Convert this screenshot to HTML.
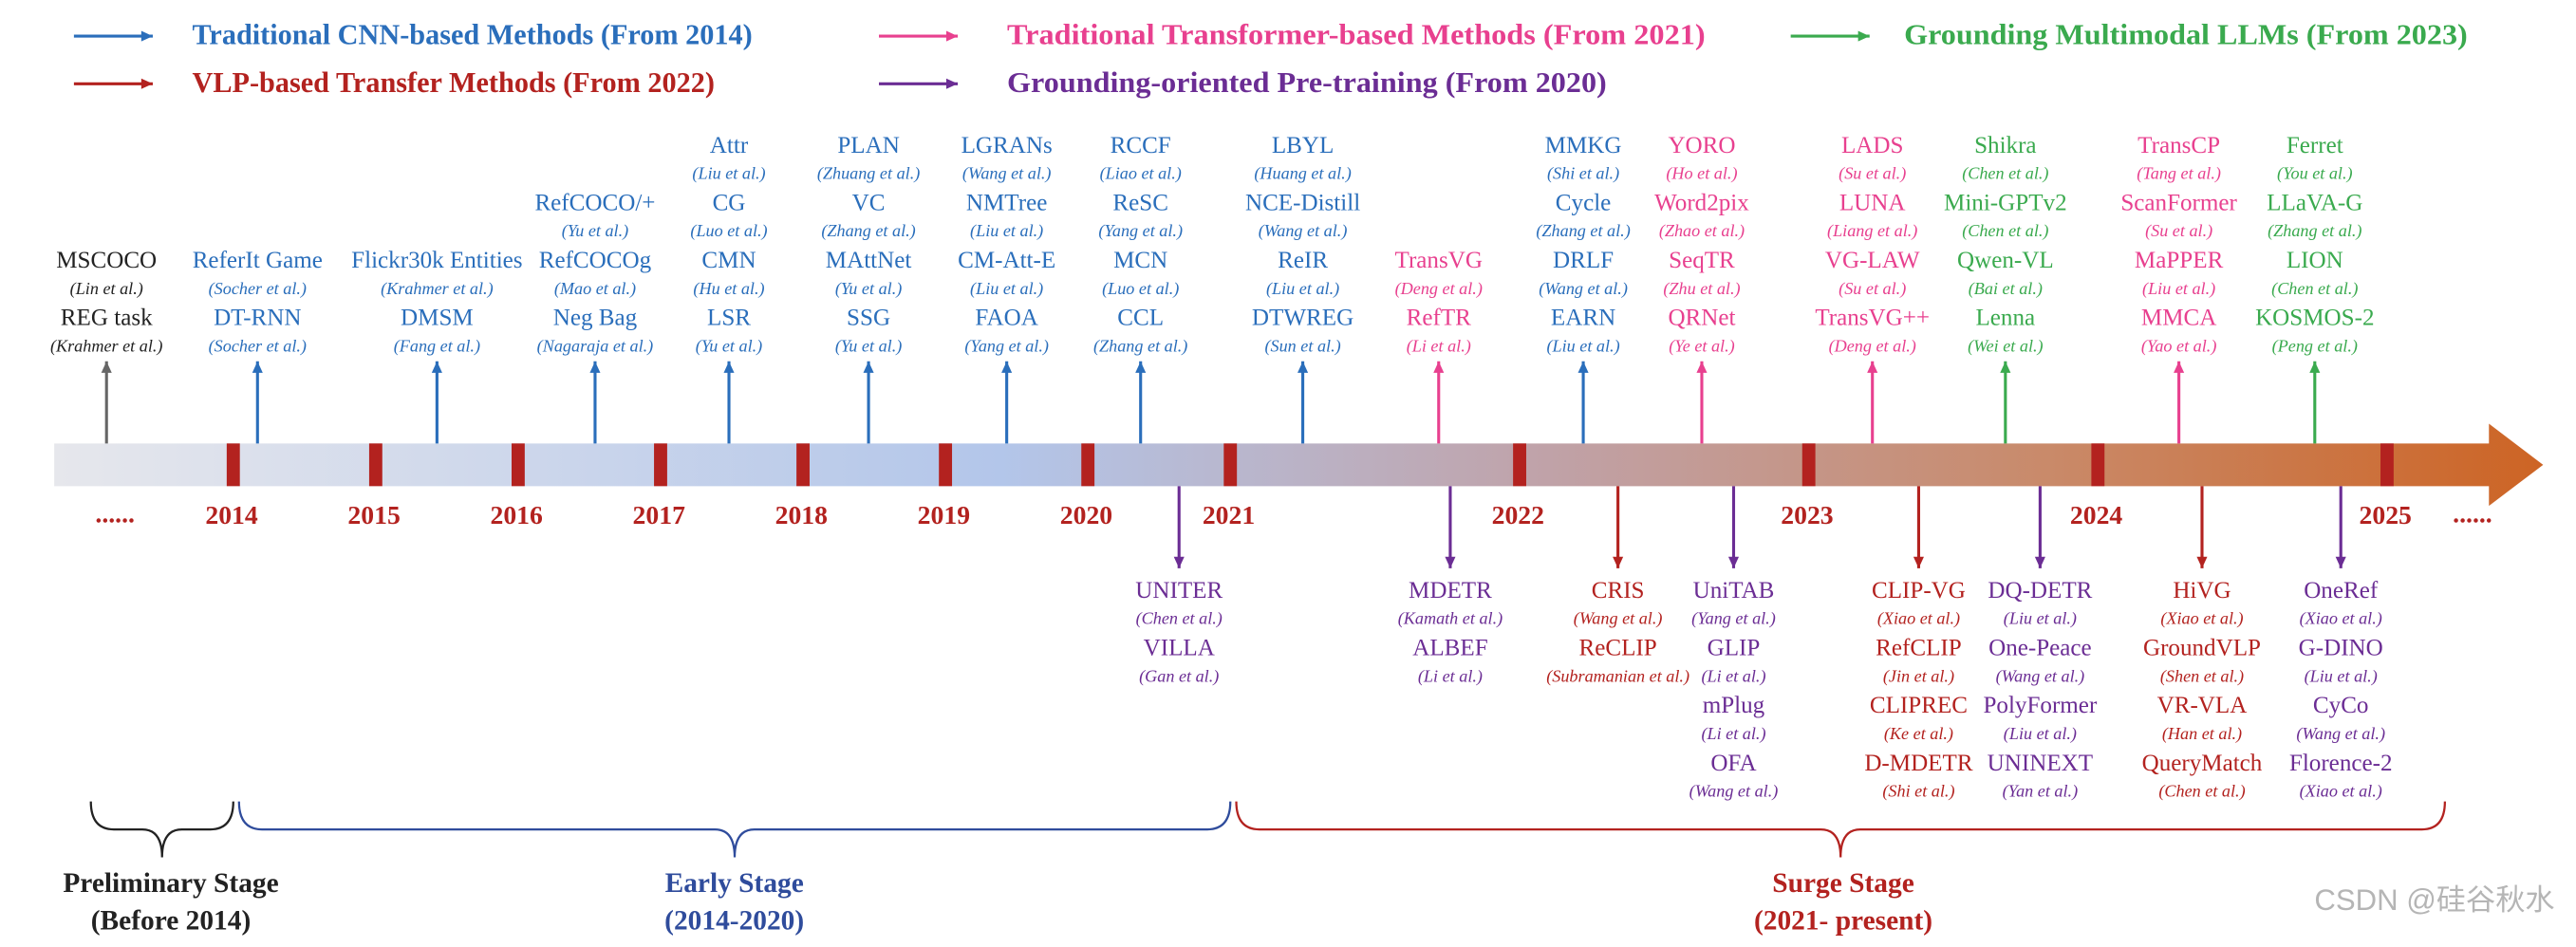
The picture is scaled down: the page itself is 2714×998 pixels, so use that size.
<!DOCTYPE html>
<html><head><meta charset="utf-8"><style>
html,body{margin:0;padding:0;background:#fff;}
svg{display:block;}
text{font-family:"Liberation Serif","Noto Serif CJK SC",serif;}
</style></head><body>
<svg id="chart" width="2714" height="998" viewBox="0 0 1568 576.6" preserveAspectRatio="none" xmlns="http://www.w3.org/2000/svg">
<defs>
<linearGradient id="barGrad" x1="0" x2="1" y1="0" y2="0">
<stop offset="0" stop-color="#e6e7ec"/>
<stop offset="0.38" stop-color="#b3c6ea"/>
<stop offset="0.6" stop-color="#c0a2a8"/>
<stop offset="0.8" stop-color="#c98a6a"/>
<stop offset="1" stop-color="#cd6424"/>
</linearGradient>
</defs>
<g id="legend"></g>
<g id="axis"></g>
<g id="cols"></g>
<g id="stages"></g>
<text x="1555" y="554" text-anchor="end" font-size="18" fill="#b5b5b5" style="font-family:'Liberation Sans','Noto Sans CJK SC',sans-serif">CSDN @硅谷秋水</text>
</svg>
<script>
const years = [2014,2015,2016,2017,2018,2019,2020,2021,2022,2023,2024,2025];
const colors = {cnn:"#2a6ebb", tr:"#e8408f", llm:"#3aaa4e", vlp:"#b3221f", pre:"#6b2d94", pre0:"#222222"};
const legendItems = [
 {k:"cnn", label:"Traditional CNN-based Methods (From 2014)", ax:45, tx:117, y:27, w:341},
 {k:"tr", label:"Traditional Transformer-based Methods (From 2021)", ax:535, tx:613, y:27, w:425},
 {k:"llm", label:"Grounding Multimodal LLMs (From 2023)", ax:1090, tx:1159, y:27, w:343},
 {k:"vlp", label:"VLP-based Transfer Methods (From 2022)", ax:45, tx:117, y:56, w:318},
 {k:"pre", label:"Grounding-oriented Pre-training (From 2020)", ax:535, tx:613, y:56, w:365}
];
const upTimes = [2013.11,2014.17,2015.43,2016.54,2017.48,2018.46,2019.43,2020.37,2021.25,2021.72,2022.22,2022.63,2023.22,2023.68,2024.28,2024.75];
const upKinds = ["pre0","cnn","cnn","cnn","cnn","cnn","cnn","cnn","cnn","tr","cnn","tr","tr","llm","tr","llm"];
const upMethods = [
 [["MSCOCO","Lin et al."],["REG task","Krahmer et al."]],
 [["ReferIt Game","Socher et al."],["DT-RNN","Socher et al."]],
 [["Flickr30k Entities","Krahmer et al."],["DMSM","Fang et al."]],
 [["RefCOCO/+","Yu et al."],["RefCOCOg","Mao et al."],["Neg Bag","Nagaraja et al."]],
 [["Attr","Liu et al."],["CG","Luo et al."],["CMN","Hu et al."],["LSR","Yu et al."]],
 [["PLAN","Zhuang et al."],["VC","Zhang et al."],["MAttNet","Yu et al."],["SSG","Yu et al."]],
 [["LGRANs","Wang et al."],["NMTree","Liu et al."],["CM-Att-E","Liu et al."],["FAOA","Yang et al."]],
 [["RCCF","Liao et al."],["ReSC","Yang et al."],["MCN","Luo et al."],["CCL","Zhang et al."]],
 [["LBYL","Huang et al."],["NCE-Distill","Wang et al."],["ReIR","Liu et al."],["DTWREG","Sun et al."]],
 [["TransVG","Deng et al."],["RefTR","Li et al."]],
 [["MMKG","Shi et al."],["Cycle","Zhang et al."],["DRLF","Wang et al."],["EARN","Liu et al."]],
 [["YORO","Ho et al."],["Word2pix","Zhao et al."],["SeqTR","Zhu et al."],["QRNet","Ye et al."]],
 [["LADS","Su et al."],["LUNA","Liang et al."],["VG-LAW","Su et al."],["TransVG++","Deng et al."]],
 [["Shikra","Chen et al."],["Mini-GPTv2","Chen et al."],["Qwen-VL","Bai et al."],["Lenna","Wei et al."]],
 [["TransCP","Tang et al."],["ScanFormer","Su et al."],["MaPPER","Liu et al."],["MMCA","Yao et al."]],
 [["Ferret","You et al."],["LLaVA-G","Zhang et al."],["LION","Chen et al."],["KOSMOS-2","Peng et al."]]
];
const downTimes = [2020.64,2021.76,2022.34,2022.74,2023.38,2023.80,2024.36,2024.84];
const downKinds = ["pre","pre","vlp","pre","vlp","pre","vlp","pre"];
const downMethods = [
 [["UNITER","Chen et al."],["VILLA","Gan et al."]],
 [["MDETR","Kamath et al."],["ALBEF","Li et al."]],
 [["CRIS","Wang et al."],["ReCLIP","Subramanian et al."]],
 [["UniTAB","Yang et al."],["GLIP","Li et al."],["mPlug","Li et al."],["OFA","Wang et al."]],
 [["CLIP-VG","Xiao et al."],["RefCLIP","Jin et al."],["CLIPREC","Ke et al."],["D-MDETR","Shi et al."]],
 [["DQ-DETR","Liu et al."],["One-Peace","Wang et al."],["PolyFormer","Liu et al."],["UNINEXT","Yan et al."]],
 [["HiVG","Xiao et al."],["GroundVLP","Shen et al."],["VR-VLA","Han et al."],["QueryMatch","Chen et al."]],
 [["OneRef","Xiao et al."],["G-DINO","Liu et al."],["CyCo","Wang et al."],["Florence-2","Xiao et al."]]
];
const stageLabels = [["Preliminary Stage","(Before 2014)"],["Early Stage","(2014-2020)"],["Surge Stage","(2021- present)"]];
const stageStart = [2013.0,2014.04,2021.02];
const stageEnd = [2014.0,2021.0,2025.2];

const NS="http://www.w3.org/2000/svg";
function x(t){ return t<=2021 ? 142+(t-2014)*86.7 : 749+(t-2021)*176; }
function mk(tag,attrs,parent,txt){ const e=document.createElementNS(NS,tag); for(const k in attrs) e.setAttribute(k,attrs[k]); if(txt!==undefined) e.textContent=txt; parent.appendChild(e); return e; }
function arrow(g,x1,y1,x2,y2,c){
 mk("line",{x1:x1,y1:y1,x2:x2,y2:y2,stroke:c,"stroke-width":1.8},g);
 const dx=x2-x1, dy=y2-y1, L=Math.hypot(dx,dy), ux=dx/L, uy=dy/L, s=7;
 mk("polygon",{points:`${x2},${y2} ${x2-ux*s-uy*3.2},${y2-uy*s+ux*3.2} ${x2-ux*s+uy*3.2},${y2-uy*s-ux*3.2}`,fill:c},g);
}
const lg=document.getElementById("legend");
legendItems.forEach(it=>{
 const g=mk("g",{},lg);
 
 
 arrow(g,it.ax,it.y-5,it.ax+48,it.y-5,colors[it.k]);
 mk("text",{x:it.tx,y:it.y,"font-size":17.5,"font-weight":"bold",fill:colors[it.k],textLength:it.w,lengthAdjust:"spacingAndGlyphs"},g,it.label);
});
const ax=document.getElementById("axis");
const bar=mk("path",{d:"M33 270 L1515 270 L1515 258 L1548 283 L1515 308 L1515 296 L33 296 Z",fill:"url(#barGrad)"},ax);


years.forEach(y=>{
 const r=mk("rect",{x:x(y)-4,y:270,width:8,height:26,fill:"#b3221f"},ax);
 
 
 const t=mk("text",{x:x(y)-1,y:319,"text-anchor":"middle","font-size":16,"font-weight":"bold",fill:"#b3221f"},ax,String(y));
 
 
});
mk("text",{x:70,y:318,"text-anchor":"middle","font-size":16,"font-weight":"bold",fill:"#b3221f"},ax,"......");
mk("text",{x:1505,y:318,"text-anchor":"middle","font-size":16,"font-weight":"bold",fill:"#b3221f"},ax,"......");
const cg=document.getElementById("cols");
function column(t,kind,items,up){
 const g=mk("g",{},cg);
 
 
 const cx=x(t), c=colors[kind];
 const ac = kind==="pre0" ? "#666" : c;
 if(up) arrow(g,cx,270,cx,220,ac); else arrow(g,cx,296,cx,346,ac);
 const n=items.length;
 items.forEach((m,i)=>{
  const y0 = up ? 193-(n-1-i)*35 : 359+i*35;
  mk("text",{x:cx,y:y0+5,"text-anchor":"middle","font-size":14.5,fill:c},g,m[0]);
  mk("text",{x:cx,y:y0+21,"text-anchor":"middle","font-size":10.5,"font-style":"italic",fill:c},g,"("+m[1]+")");
 });
}
upTimes.forEach((t,i)=>column(t,upKinds[i],upMethods[i],true));
downTimes.forEach((t,i)=>column(t,downKinds[i],downMethods[i],false));
const sg=document.getElementById("stages");
const stageColors=["#222222","#2f4c9c","#b3221f"];
stageLabels.forEach((s,i)=>{
 const g=mk("g",{},sg);
 
 
 const a=x(stageStart[i]), b=x(stageEnd[i]), m=(a+b)/2, c=stageColors[i];
 const top=488, mid=505, tip=522;
 mk("path",{d:`M${a} ${top} Q${a} ${mid} ${a+14} ${mid} L${m-12} ${mid} Q${m} ${mid} ${m} ${tip} Q${m} ${mid} ${m+12} ${mid} L${b-14} ${mid} Q${b} ${mid} ${b} ${top}`,fill:"none",stroke:c,"stroke-width":1.3},g);
 const lx = i===0 ? 104 : (i===1 ? 447 : 1122);
 mk("text",{x:lx,y:543,"text-anchor":"middle","font-size":17,"font-weight":"bold",fill:c},g,s[0]);
 mk("text",{x:lx,y:566,"text-anchor":"middle","font-size":17,"font-weight":"bold",fill:c},g,s[1]);
});
</script>
</body></html>
